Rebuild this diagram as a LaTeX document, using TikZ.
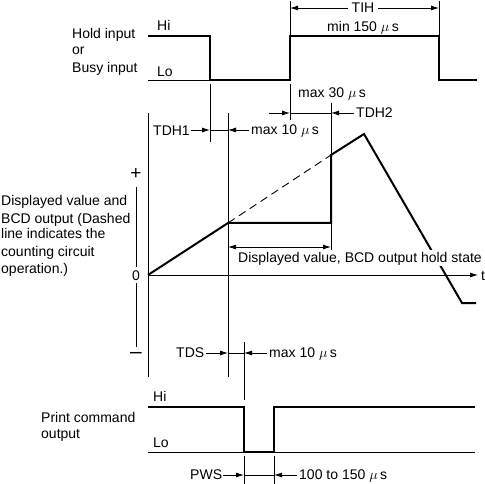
\documentclass[tikz,border=0pt]{standalone}
\usepackage{fontspec}
\setmainfont{Liberation Sans}
\usetikzlibrary{arrows.meta}
\begin{document}
\begin{tikzpicture}[x=1pt,y=-1pt,
  txt/.style={font=\fontsize{14}{17}\selectfont, inner sep=0pt, anchor=base west},
  ctxt/.style={font=\fontsize{14}{17}\selectfont, inner sep=0pt, anchor=base},
  guide/.style={line width=0.8pt},
  sig/.style={line width=2pt, line join=miter},
  tip/.style={-{Latex[length=8pt,width=5pt]}},
  tips/.style={{Latex[length=8pt,width=5pt]}-{Latex[length=8pt,width=5pt]}},
]
\useasboundingbox (0,0) rectangle (485,484);

% ---------- Hold / Busy input ----------
\node[txt] (hold) at (72,39) {Hold input};
\node[txt] (or) at (72,55) {or};
\node[txt] (busy) at (72,73) {Busy input};
\node[txt] (hi1) at (157,31) {Hi};
\node[txt] (lo1) at (157,77) {Lo};

\draw[guide] (148,80) -- (210,80);
\draw[sig] (148,36) -- (210,36) -- (210,80) -- (290,80) -- (290,36) -- (439,36) -- (439,80) -- (477,80);

% TIH
\draw[guide] (290,1) -- (290,36);
\draw[guide] (439,1) -- (439,36);
\coordinate (tihL) at (290,8);
\coordinate (tihR) at (439,8);
\node[ctxt] (tih) at (363,13) {TIH};
\draw[guide,tip] ([xshift=-4pt]tih.west |- tihL) -- (tihL);
\draw[guide,tip] ([xshift=4pt]tih.east |- tihR) -- (tihR);
\node[ctxt] (min150) at (363,32) {min 150 $\mu$\,s};

% ---------- vertical guides ----------
\draw[guide] (210,84) -- (210,142);
\draw[guide] (290,84) -- (290,120);
\draw[guide] (148,113) -- (148,377);
\draw[guide] (228,113) -- (228,377);
\draw[guide] (331,103) -- (331,252);

% TDH1
\coordinate (d1a) at (210,130);
\coordinate (d1b) at (228,130);
\node[txt] (tdh1) at (153,136) {TDH1};
\node[txt] (mx1) at (251,135) {max 10 $\mu$\,s};
\draw[guide,tip] ([xshift=1pt]tdh1.east |- d1a) -- (d1a);
\draw[guide] (d1a) -- (d1b);
\draw[guide,tip] ([xshift=-2pt]mx1.west |- d1b) -- (d1b);

% TDH2
\coordinate (d2s) at (269,113);
\coordinate (d2a) at (290,113);
\coordinate (d2b) at (331,113);
\node[txt] (mx30) at (298,98) {max 30 $\mu$\,s};
\node[txt] (tdh2) at (356,118) {TDH2};
\draw[guide,tip] (d2s) -- (d2a);
\draw[guide] (d2a) -- (d2b);
\draw[guide,tip] ([xshift=-2pt]tdh2.west |- d2b) -- (d2b);

% ---------- Displayed value graph ----------
\draw[guide] (136,187) -- (136,267);
\draw[guide] (136,283) -- (136,347);
\node[font=\fontsize{19}{19}\selectfont, inner sep=0pt] (plus) at (136,174) {+};
\node[ctxt] (zero) at (136,280) {0};
\node[font=\fontsize{21}{21}\selectfont, inner sep=0pt] (minus) at (136,355) {–};

\node[txt] (dv1) at (1,206) {Displayed value and};
\node[txt] (dv2) at (1,223) {BCD output (Dashed};
\node[txt] (dv3) at (1,239) {line indicates the};
\node[txt] (dv4) at (1,256) {counting circuit};
\node[txt] (dv5) at (1,273) {operation.)};

\coordinate (orig) at (148,275);
\coordinate (tend) at (478,275);
\draw[guide,tip] (orig) -- (tend);
\node[txt] (t) at (481,280) {t};

\draw[line width=0.9pt, dash pattern=on 8pt off 5pt] (228,223) -- (331,155);
\draw[sig] (orig) -- (228,223) -- (331,223) -- (331,155) -- (364,134) -- (462,303) -- (476,303);

\coordinate (hsL) at (228,247);
\coordinate (hsR) at (331,247);
\draw[guide,tips] (hsL) -- (hsR);
\node[txt, fill=white, inner xsep=1pt, inner ysep=1.5pt] (hold) at (237,262) {Displayed value, BCD output hold state};

% TDS
\draw[guide] (244,342) -- (244,400);
\coordinate (dsa) at (228,353);
\coordinate (dsb) at (244,353);
\node[txt] (tds) at (176,357) {TDS};
\node[txt] (mx2) at (269,357) {max 10 $\mu$\,s};
\draw[guide,tip] ([xshift=2pt]tds.east |- dsa) -- (dsa);
\draw[guide] (dsa) -- (dsb);
\draw[guide,tip] ([xshift=-2pt]mx2.west |- dsb) -- (dsb);

% ---------- Print command output ----------
\node[txt] (pc1) at (41,422) {Print command};
\node[txt] (pc2) at (41,438) {output};
\node[txt] (hi2) at (153,401) {Hi};
\node[txt] (lo2) at (153,447) {Lo};
\draw[guide] (148,452) -- (475,452);
\draw[sig] (148,407) -- (244,407) -- (244,452) -- (274,452) -- (274,407) -- (475,407);

% PWS
\draw[guide] (244,456) -- (244,484);
\draw[guide] (274,456) -- (274,484);
\coordinate (pwa) at (244,475);
\coordinate (pwb) at (274,475);
\node[txt] (pws) at (190,479) {PWS};
\node[txt] (pwt) at (299,479) {100 to 150 $\mu$\,s};
\draw[guide,tip] ([xshift=1pt]pws.east |- pwa) -- (pwa);
\draw[guide] (pwa) -- (pwb);
\draw[guide,tip] ([xshift=-2pt]pwt.west |- pwb) -- (pwb);
\end{tikzpicture}
\end{document}
